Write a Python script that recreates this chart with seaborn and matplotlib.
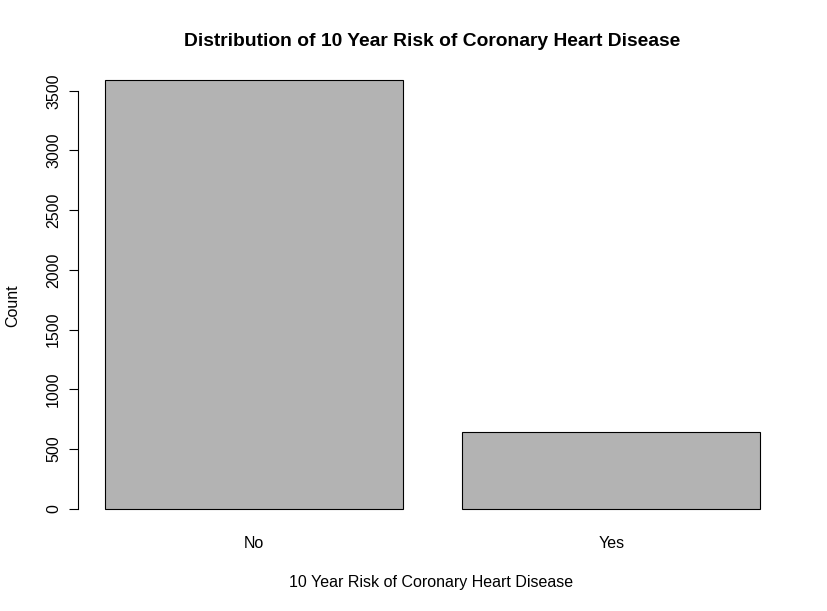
import matplotlib
matplotlib.use("Agg")
import matplotlib.pyplot as plt
import seaborn as sns
import pandas as pd

categories = ["No", "Yes"]
counts = [3594, 644]
y_ticks = [0, 500, 1000, 1500, 2000, 2500, 3000, 3500]

sns.set_theme(style="white")
plt.rcParams['font.family'] = ['Liberation Sans', 'DejaVu Sans']

df = pd.DataFrame({"risk": categories, "count": counts})

fig = plt.figure(figsize=(8.27, 6.11), dpi=100)
ax = fig.add_axes([0.0949, 0.1393, 0.8561, 0.7586])

sns.barplot(data=df, x="risk", y="count", order=categories, color="#B3B3B3",
            saturation=1, width=1/1.2, edgecolor="black", linewidth=0.8, ax=ax)

ax.set_xlim(-0.49, 1.49)
ax.set_ylim(-143.76, 3737.76)
ax.set_yticks(y_ticks)
ax.set_yticklabels([str(v) for v in y_ticks], rotation=90, va="center")

for s in ["top", "right", "bottom"]:
    ax.spines[s].set_visible(False)
ax.spines["left"].set_bounds(0, 3500)
ax.spines["left"].set_color("black")
ax.spines["left"].set_linewidth(0.8)

fs = 11.5
ax.tick_params(axis="x", length=0, pad=7, labelsize=fs, colors="black")
ax.tick_params(axis="y", left=True, length=6.5, width=0.8, pad=6, labelsize=fs,
               colors="black")

ax.set_xlabel("10 Year Risk of Coronary Heart Disease", fontsize=fs, color="black")
ax.set_ylabel("Count", fontsize=fs, color="black")
ax.xaxis.set_label_coords(0.4976, -0.1225)
ax.xaxis.label.set_va("center")
ax.yaxis.set_label_coords(-0.0925, 0.4757)
ax.yaxis.label.set_va("center")

ax.set_title("Distribution of 10 Year Risk of Coronary Heart Disease",
             fontsize=13.9, fontweight="bold", color="black", y=1.046, va="center",
             pad=0)

fig.savefig("out.png", dpi=100)
